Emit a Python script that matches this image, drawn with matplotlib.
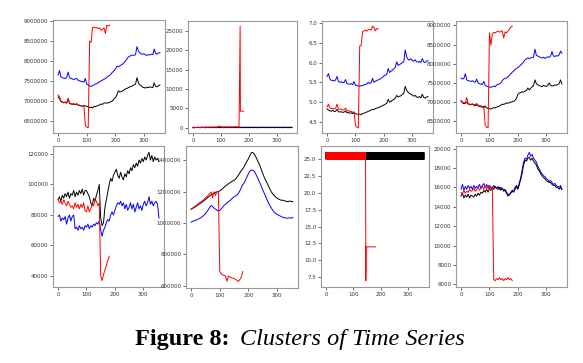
#%% imports

import numpy as np
import matplotlib.pyplot as plt

#%% data (one sample every 5 days)

days = np.arange(0, 360, 5)
red_days = np.arange(0, 185, 5)
xticks = [0, 100, 200, 300]

# top row, panel 1
p1_blue = [7650000, 7760000, 7600000, 7580000, 7570000, 7560000, 7590000, 7720000, 7580000, 7560000,
           7550000, 7530000, 7550000, 7560000, 7510000, 7500000, 7490000, 7480000, 7470000, 7560000,
           7420000, 7400000, 7370000, 7360000, 7380000, 7400000, 7420000, 7430000, 7460000, 7480000,
           7500000, 7520000, 7540000, 7560000, 7590000, 7620000, 7640000, 7680000, 7720000, 7760000,
           7800000, 7870000, 7850000, 7880000, 7900000, 7920000, 7960000, 8000000, 8050000, 8100000,
           8120000, 8140000, 8150000, 8140000, 8160000, 8360000, 8250000, 8200000, 8180000, 8170000,
           8180000, 8150000, 8140000, 8160000, 8150000, 8170000, 8160000, 8300000, 8190000, 8170000,
           8200000, 8210000]
p1_black = [7100000, 7050000, 6980000, 6960000, 6950000, 6960000, 6940000, 7050000, 6930000, 6920000,
            6910000, 6920000, 6900000, 6920000, 6890000, 6880000, 6870000, 6860000, 6880000, 6870000,
            6860000, 6850000, 6830000, 6840000, 6820000, 6860000, 6850000, 6870000, 6880000, 6900000,
            6920000, 6910000, 6940000, 6950000, 6940000, 6950000, 6960000, 6980000, 7000000, 7050000,
            7080000, 7150000, 7250000, 7220000, 7230000, 7250000, 7270000, 7300000, 7310000, 7330000,
            7350000, 7360000, 7380000, 7400000, 7420000, 7580000, 7450000, 7400000, 7380000, 7340000,
            7330000, 7320000, 7340000, 7330000, 7350000, 7340000, 7330000, 7450000, 7360000, 7350000,
            7380000, 7400000]
p1_red = [7150000, 7100000, 7000000, 6970000, 6960000, 6970000, 6950000, 7060000, 6950000, 6930000,
          6920000, 6930000, 6910000, 6930000, 6900000, 6890000, 6880000, 6870000, 6860000, 6380000,
          6340000, 6320000, 8500000, 8470000, 8840000, 8850000, 8830000, 8840000, 8810000, 8830000,
          8770000, 8800000, 8830000, 8690000, 8900000, 8880000, 8900000]

# top row, panel 2
p2_blue = [150, 180, 120, 200, 160, 140, 190, 170, 150, 210, 180, 160, 200, 150, 170, 190, 140, 180,
           200, 160, 150, 190, 170, 200, 180, 150, 160, 190, 170, 150, 180, 200, 160, 170, 190, 150,
           180, 160, 200, 170, 150, 190, 180, 160, 200, 170, 150, 180, 190, 160, 170, 200, 150, 180,
           160, 190, 170, 150, 200, 180, 160, 170, 190, 150, 180, 200, 160, 170, 150, 190, 180, 160]
p2_black = [80, 60, 100, 70, 90, 50, 80, 110, 70, 60, 90, 80, 100, 60, 70, 90, 80, 60,
            100, 70, 80, 90, 60, 80, 100, 70, 90, 60, 80, 70, 100, 80, 60, 90, 70, 80,
            60, 100, 70, 90, 80, 60, 100, 70, 80, 90, 60, 80, 70, 100, 80, 90, 60, 70,
            80, 100, 60, 90, 70, 80, 100, 60, 80, 90, 70, 60, 100, 80, 70, 90, 60, 80]
p2_red_days = list(range(0, 170, 5)) + [169, 170, 182]
p2_red = [0, 50, 120, 80, 150, 100, 130, 160, 120, 180, 150, 200, 170, 220, 180, 250, 200, 230,
          350, 500, 300, 250, 220, 280, 240, 260, 230, 270, 250, 280, 260, 300, 280, 250,
          26200, 4300, 4300]

# top row, panel 3
p3_blue = [5.65, 5.72, 5.58, 5.55, 5.55, 5.53, 5.56, 5.65, 5.52, 5.50, 5.52, 5.49, 5.50, 5.57, 5.47,
           5.46, 5.45, 5.47, 5.44, 5.52, 5.43, 5.42, 5.41, 5.40, 5.42, 5.41, 5.44, 5.45, 5.46, 5.50,
           5.47, 5.49, 5.60, 5.50, 5.53, 5.55, 5.56, 5.58, 5.60, 5.63, 5.66, 5.68, 5.70, 5.85, 5.75,
           5.78, 5.81, 5.84, 5.88, 6.02, 5.93, 5.95, 5.97, 6.00, 6.02, 6.32, 6.15, 6.08, 6.06, 6.10,
           6.05, 6.03, 6.07, 6.02, 6.01, 6.03, 6.00, 6.10, 6.02, 6.00, 6.03, 6.05]
p3_black = [4.83, 4.80, 4.78, 4.77, 4.80, 4.76, 4.77, 4.82, 4.76, 4.75, 4.76, 4.74, 4.75, 4.78, 4.73,
            4.74, 4.72, 4.73, 4.71, 4.74, 4.71, 4.70, 4.69, 4.70, 4.68, 4.71, 4.72, 4.74, 4.75, 4.77,
            4.78, 4.80, 4.82, 4.81, 4.84, 4.85, 4.86, 4.88, 4.89, 4.91, 4.93, 4.95, 4.97, 5.07, 5.00,
            5.02, 5.05, 5.07, 5.10, 5.17, 5.13, 5.15, 5.16, 5.20, 5.22, 5.40, 5.30, 5.25, 5.22, 5.20,
            5.18, 5.15, 5.17, 5.13, 5.12, 5.14, 5.11, 5.20, 5.12, 5.10, 5.13, 5.14]
p3_red = [4.88, 4.95, 4.85, 4.84, 4.85, 4.83, 4.84, 4.95, 4.83, 4.82, 4.83, 4.80, 4.81, 4.85, 4.78,
          4.79, 4.76, 4.77, 4.74, 4.76, 4.42, 4.37, 4.35, 6.42, 6.43, 6.78, 6.80, 6.82, 6.79, 6.83,
          6.84, 6.82, 6.92, 6.88, 6.80, 6.86, 6.85]

# top row, panel 4
p4_blue = [7630000, 7600000, 7620000, 7740000, 7580000, 7560000, 7550000, 7540000, 7560000, 7530000,
           7520000, 7600000, 7500000, 7480000, 7470000, 7460000, 7540000, 7440000, 7420000, 7400000,
           7390000, 7390000, 7400000, 7420000, 7400000, 7450000, 7460000, 7480000, 7500000, 7560000,
           7600000, 7620000, 7630000, 7660000, 7700000, 7740000, 7780000, 7810000, 7850000, 7880000,
           7900000, 7930000, 7970000, 8000000, 8050000, 8100000, 8130000, 8150000, 8140000, 8150000,
           8160000, 8170000, 8380000, 8220000, 8200000, 8180000, 8160000, 8150000, 8170000, 8140000,
           8160000, 8180000, 8170000, 8200000, 8320000, 8200000, 8190000, 8210000, 8200000, 8230000,
           8330000, 8270000]
p4_black = [7030000, 6980000, 6960000, 6970000, 7000000, 6950000, 6940000, 6930000, 6950000, 6920000,
            6910000, 6960000, 6900000, 6890000, 6880000, 6870000, 6860000, 6900000, 6850000, 6840000,
            6830000, 6820000, 6840000, 6860000, 6850000, 6870000, 6880000, 6900000, 6920000, 6950000,
            6940000, 6960000, 6980000, 6970000, 6990000, 7000000, 7010000, 7020000, 7050000, 7100000,
            7200000, 7240000, 7250000, 7270000, 7260000, 7290000, 7300000, 7370000, 7320000, 7360000,
            7400000, 7430000, 7580000, 7480000, 7450000, 7430000, 7420000, 7400000, 7440000, 7420000,
            7410000, 7430000, 7500000, 7440000, 7420000, 7430000, 7450000, 7440000, 7460000, 7480000,
            7580000, 7470000]
p4_red = [7050000, 7000000, 6980000, 6990000, 7120000, 6960000, 6950000, 6940000, 6960000, 6930000,
          6950000, 6920000, 6930000, 6900000, 6910000, 6880000, 6900000, 6400000, 6350000, 6330000,
          8810000, 8480000, 8780000, 8820000, 8800000, 8830000, 8850000, 8820000, 8840000, 8860000,
          8670000, 8830000, 8800000, 8850000, 8900000, 8950000, 8980000]

# bottom row, panel 5
p5_blue = [79000, 80000, 76000, 78000, 77000, 79000, 74000, 78000, 80000, 76000, 79000, 80000,
           71000, 72000, 70000, 73000, 71000, 72000, 70000, 73000, 72000, 74000, 71000, 73000,
           72000, 74000, 73000, 75000, 74000, 76000, 70000, 66000, 70000, 72000, 75000, 77000,
           76000, 80000, 82000, 80000, 83000, 86000, 88000, 87000, 89000, 86000, 88000, 84000,
           87000, 83000, 85000, 88000, 84000, 87000, 82000, 85000, 88000, 84000, 86000, 83000,
           87000, 89000, 86000, 88000, 92000, 87000, 89000, 86000, 88000, 89000, 87000, 78000]
p5_black = [90000, 92000, 89000, 93000, 91000, 94000, 92000, 95000, 91000, 94000, 93000, 96000,
            92000, 95000, 93000, 96000, 94000, 97000, 93000, 96000, 96000, 94000, 92000, 88000,
            86000, 91000, 89000, 93000, 96000, 100000, 78000, 73000, 75000, 85000, 90000, 95000,
            100000, 104000, 102000, 106000, 108000, 110000, 106000, 104000, 108000, 105000, 103000, 107000,
            105000, 109000, 107000, 111000, 109000, 113000, 111000, 114000, 112000, 116000, 114000, 117000,
            115000, 118000, 116000, 119000, 121000, 116000, 119000, 115000, 118000, 116000, 117000, 115000]
p5_red = [90000, 88000, 89000, 87000, 90000, 88000, 86000, 89000, 87000, 85000, 86000, 84000,
          88000, 85000, 87000, 84000, 87000, 85000, 88000, 83000, 82000, 86000, 82000, 84000,
          87000, 86000, 90000, 89000, 86000, 88000, 40000, 37000, 41000, 44000, 47000, 50000, 53000]

# bottom row, panel 6
p6_blue = [1005000, 1010000, 1013000, 1017000, 1020000, 1025000, 1030000, 1035000, 1042000, 1050000,
           1060000, 1072000, 1085000, 1100000, 1110000, 1105000, 1095000, 1088000, 1082000, 1078000,
           1080000, 1090000, 1100000, 1112000, 1120000, 1128000, 1135000, 1142000, 1150000, 1160000,
           1168000, 1172000, 1178000, 1190000, 1205000, 1225000, 1245000, 1255000, 1275000, 1295000,
           1315000, 1330000, 1338000, 1336000, 1330000, 1315000, 1295000, 1275000, 1255000, 1232000,
           1210000, 1190000, 1168000, 1148000, 1128000, 1110000, 1095000, 1080000, 1068000, 1060000,
           1055000, 1050000, 1045000, 1040000, 1036000, 1033000, 1032000, 1030000, 1033000, 1031000,
           1032000, 1035000]
p6_black = [1088000, 1092000, 1098000, 1103000, 1110000, 1116000, 1122000, 1128000, 1135000, 1142000,
            1150000, 1158000, 1165000, 1172000, 1180000, 1185000, 1190000, 1195000, 1198000, 1200000,
            1205000, 1212000, 1220000, 1228000, 1236000, 1243000, 1250000, 1256000, 1262000, 1268000,
            1272000, 1280000, 1292000, 1305000, 1320000, 1335000, 1345000, 1360000, 1378000, 1395000,
            1410000, 1430000, 1448000, 1450000, 1440000, 1425000, 1405000, 1385000, 1365000, 1340000,
            1315000, 1292000, 1272000, 1255000, 1235000, 1215000, 1198000, 1185000, 1175000, 1165000,
            1158000, 1152000, 1148000, 1145000, 1145000, 1142000, 1140000, 1135000, 1138000, 1140000,
            1137000, 1136000]
p6_red = [1088000, 1095000, 1102000, 1108000, 1115000, 1122000, 1130000, 1136000, 1143000, 1150000,
          1160000, 1168000, 1178000, 1188000, 1197000, 1160000, 1200000, 1175000, 1200000, 1203000,
          690000, 675000, 668000, 665000, 660000, 628000, 662000, 655000, 652000, 648000,
          645000, 640000, 632000, 626000, 640000, 655000, 690000]

# bottom row, panel 7 (values flip between 25 and 26 every day)
p7_days = np.arange(360)
p7_blue = [26, 25] * 180
p7_black = [26, 25] * 180
p7_red_days = list(range(146)) + [146, 147, 181]
p7_red = [26, 25] * 73 + [7, 12, 12]

# bottom row, panel 8
p8_blue = [15800, 16300, 15700, 16100, 15800, 16200, 15900, 16100, 15800, 16200, 15900, 16100,
           16000, 16300, 15900, 16200, 16400, 16000, 16300, 15900, 16200, 16000, 15900, 16200,
           16000, 15900, 16100, 15800, 16000, 15900, 15700, 15800, 15500, 15300, 15200, 15500,
           15700, 15600, 16000, 16200, 15900, 16500, 17000, 17800, 18600, 19000, 18900, 19300,
           19600, 19200, 19400, 19000, 18800, 18600, 18200, 17900, 17600, 17400, 17200, 17100,
           16900, 16800, 16600, 16700, 16500, 16300, 16400, 16200, 16100, 16000, 16200, 15800]
p8_black = [15100, 15400, 14900, 15200, 15000, 15300, 14900, 15200, 15100, 15000, 15300, 15100,
            15400, 15200, 15500, 15400, 15700, 15500, 15800, 15500, 15900, 15700, 16000, 15800,
            16100, 15900, 15800, 16000, 15700, 15900, 15600, 15700, 15400, 15100, 15300, 15400,
            15600, 15500, 15800, 16100, 15800, 16300, 16800, 17500, 18300, 18800, 18700, 19000,
            19100, 18800, 19000, 18700, 18500, 18300, 17900, 17700, 17400, 17200, 17000, 16900,
            16700, 16600, 16500, 16500, 16300, 16200, 16200, 16000, 16000, 15800, 16000, 15800]
p8_red = [15500, 15300, 15700, 15400, 15600, 15500, 15800, 15600, 15700, 15900, 15600, 15800,
          16000, 15700, 15900, 16100, 15800, 16100, 15900, 16200, 16000, 15700, 16100, 6500,
          6400, 6600, 6500, 6700, 6500, 6600, 6400, 6600, 6500, 6700, 6500, 6600, 6400]

#%% panels: (box in pixels, series, yticks)

W, H = 583, 363
panels = [
    ((53, 20, 165, 133), [(days, p1_blue, 'blue'), (days, p1_black, 'black'), (red_days, p1_red, 'red')],
     [6500000, 7000000, 7500000, 8000000, 8500000, 9000000]),
    ((188, 21, 297, 133), [(days, p2_blue, 'blue'), (days, p2_black, 'black'), (p2_red_days, p2_red, 'red')],
     [0, 5000, 10000, 15000, 20000, 25000]),
    ((322, 21, 433, 133), [(days, p3_blue, 'blue'), (days, p3_black, 'black'), (red_days, p3_red, 'red')],
     [4.5, 5.0, 5.5, 6.0, 6.5, 7.0]),
    ((456, 21, 567, 133), [(days, p4_blue, 'blue'), (days, p4_black, 'black'), (red_days, p4_red, 'red')],
     [6500000, 7000000, 7500000, 8000000, 8500000, 9000000]),
    ((53, 146, 164, 287), [(days, p5_blue, 'blue'), (days, p5_black, 'black'), (red_days, p5_red, 'red')],
     [40000, 60000, 80000, 100000, 120000]),
    ((186, 146, 298, 288), [(days, p6_blue, 'blue'), (days, p6_black, 'black'), (red_days, p6_red, 'red')],
     [600000, 800000, 1000000, 1200000, 1400000]),
    ((321, 146, 429, 287), [(p7_days, p7_blue, 'blue'), (p7_days, p7_black, 'black'), (p7_red_days, p7_red, 'red')],
     [7.5, 10.0, 12.5, 15.0, 17.5, 20.0, 22.5, 25.0]),
    ((456, 146, 567, 287), [(days, p8_blue, 'blue'), (days, p8_black, 'black'), (red_days, p8_red, 'red')],
     [6000, 8000, 10000, 12000, 14000, 16000, 18000, 20000]),
]

#%% plot

fig = plt.figure(figsize=(W / 100, H / 100), dpi=100)

for (l, t, r, b), series, yt in panels:
    ax = fig.add_axes([l / W, 1 - b / H, (r - l) / W, (b - t) / H])
    for x, y, c in series:
        ax.plot(x, y, color=c, lw=0.7)
    ax.set_xticks(xticks)
    ax.set_yticks(yt)
    ax.ticklabel_format(axis='y', style='plain', useOffset=False)
    ax.tick_params(labelsize=4, length=2, width=0.5, pad=1.5, colors='#333333')
    for s in ax.spines.values():
        s.set_color('#999999')
        s.set_linewidth(0.8)

fig.text(135 / W, 1 - 345 / H, 'Figure 8:', fontsize=17.5, fontweight='bold',
         family='Liberation Serif', va='baseline')
fig.text(240 / W, 1 - 345 / H, 'Clusters of Time Series', fontsize=17.5, style='italic',
         family='Liberation Serif', va='baseline')

fig.savefig('out.png', dpi=100)
